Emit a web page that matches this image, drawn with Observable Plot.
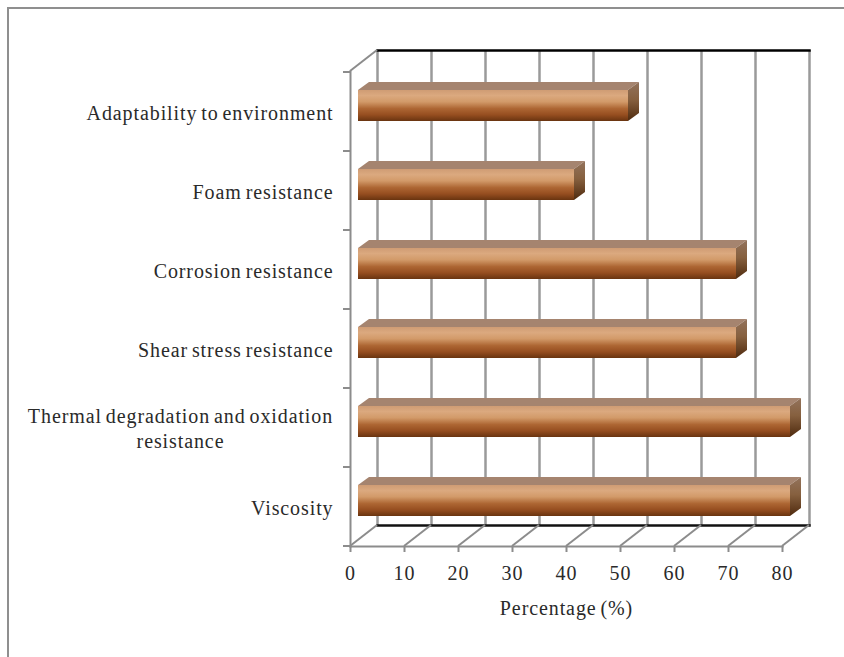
<!DOCTYPE html>
<html>
<head>
<meta charset="utf-8">
<script src="https://cdn.jsdelivr.net/npm/d3@7"></script>
<script src="https://cdn.jsdelivr.net/npm/@observablehq/plot@0.6"></script>
<style>
  html, body { margin: 0; padding: 0; background: #fff; overflow: hidden; }
  #chart { position: relative; width: 844px; height: 657px; }
  #chart svg { display: block; position: absolute; left: 0; top: 0; }
  #edge { position: absolute; left: 7px; top: 7px; right: 0; bottom: 0;
          border-top: 2px solid #8f8f8f; border-left: 2px solid #8f8f8f; z-index: 1; }
</style>
</head>
<body>
<div id="chart"><div id="edge"></div></div>
<script>
// Properties ranked by share of responses
const properties = [
  "Adaptability to environment",
  "Foam resistance",
  "Corrosion resistance",
  "Shear stress resistance",
  "Thermal degradation and oxidation\nresistance",
  "Viscosity"
];
const percentages = [50, 40, 70, 70, 80, 80];
const xTicks = [0, 10, 20, 30, 40, 50, 60, 70, 80];
const xTitle = "Percentage (%)";

const rows = properties.map((name, i) => ({name, value: percentages[i]}));

// Pseudo-3D box: how far the back wall and the bar depth are displaced
const wall = {dx: 27, dy: -21};
const bar = {shift: 8, insetTop: 18, insetBottom: 30, dx: 11, dy: -8};

const font = "'Liberation Serif', serif";
const labelSize = 20;
const gridColor = "#9a9a9a";
const axisColor = "#8c8c8c";

// Shared gradients for the bar faces
const gradients = () => {
  const defs = d3.create("svg:defs");
  const add = (id, stops) => {
    const g = defs.append("linearGradient").attr("id", id)
      .attr("x1", 0).attr("y1", 0).attr("x2", 0).attr("y2", 1);
    for (const [o, c] of stops) g.append("stop").attr("offset", o).attr("stop-color", c);
  };
  add("barFront", [[0, "#cf9c74"], [0.18, "#dba97f"], [0.38, "#d29a69"],
                   [0.6, "#ad6633"], [0.8, "#964e20"], [1, "#693410"]]);
  add("barEnd", [[0, "#93735c"], [0.45, "#86603f"], [1, "#4f2a0e"]]);
  return defs.node();
};

// Oblique floor and wall edges running from the front axes to the back wall
const depthEdges = (index, {x, y}, values, {marginTop, height, marginBottom}) => {
  const g = d3.create("svg:g").attr("stroke", axisColor).attr("stroke-width", 2);
  const floor = height - marginBottom;
  const edge = (px, py) => g.append("line")
    .attr("x1", px).attr("y1", py)
    .attr("x2", px + wall.dx).attr("y2", py + wall.dy);
  for (const t of xTicks) edge(x(t), floor);
  edge(x(0), marginTop);
  return g.node();
};

// Tick marks on the band boundaries of the category axis
const bandTicks = (index, {x, y}, values, {height, marginBottom}) => {
  const g = d3.create("svg:g").attr("stroke", axisColor).attr("stroke-width", 2);
  const stops = [...properties.map((p) => y(p)), height - marginBottom];
  for (const py of stops) {
    g.append("line").attr("x1", x(0) - 7).attr("x2", x(0)).attr("y1", py).attr("y2", py);
  }
  return g.node();
};

// Top and end faces of each bar, sharing the scales of the front face
const barFaces = (index, {x, y}) => {
  const g = d3.create("svg:g");
  const band = y(properties[1]) - y(properties[0]);
  for (const {name, value} of rows) {
    const top = y(name) + bar.insetTop;
    const bottom = y(name) + band - bar.insetBottom;
    const left = x(0) + bar.shift;
    const right = x(value) + bar.shift;
    g.append("polygon").attr("fill", "#a5846f")
      .attr("points", [[left, top], [left + bar.dx, top + bar.dy],
                       [right + bar.dx, top + bar.dy], [right, top]].join(" "));
    g.append("polygon").attr("fill", "url(#barEnd)")
      .attr("points", [[right, top], [right + bar.dx, top + bar.dy],
                       [right + bar.dx, bottom + bar.dy], [right, bottom]].join(" "));
  }
  return g.node();
};

const textStyle = {fontSize: labelSize, fontFamily: font, fill: "#2a2a2a"};

const chart = Plot.plot({
  width: 844,
  height: 657,
  marginTop: 71,
  marginBottom: 111,
  marginLeft: 350,
  marginRight: 62,
  style: {background: "transparent", fontFamily: font, letterSpacing: "0.9px", wordSpacing: "-2px"},
  x: {domain: [0, 80]},
  y: {domain: properties, padding: 0, axis: null},
  marks: [
    gradients,
    // Back wall: gridlines and its black top and bottom edges
    Plot.ruleX(xTicks, {x: (d) => d, dx: wall.dx, dy: wall.dy, stroke: gridColor, strokeWidth: 2.5}),
    Plot.frame({anchor: "top", dx: wall.dx, dy: wall.dy, stroke: "#000", strokeWidth: 2.5}),
    Plot.frame({anchor: "bottom", dx: wall.dx, dy: wall.dy, stroke: "#111", strokeWidth: 2.5}),
    // Front axes
    depthEdges,
    Plot.frame({anchor: "left", stroke: axisColor, strokeWidth: 2}),
    Plot.frame({anchor: "bottom", stroke: axisColor, strokeWidth: 2}),
    bandTicks,
    Plot.axisX({
      ticks: xTicks, tickSize: 6, tickPadding: 13, label: null,
      stroke: axisColor, strokeWidth: 2, fontSize: labelSize, fill: "#2a2a2a",
      tickFormat: (d) => String(d)
    }),
    // Bars
    barFaces,
    Plot.barX(rows, {
      x1: () => 0, x2: "value", y: "name", dx: bar.shift,
      insetTop: bar.insetTop, insetBottom: bar.insetBottom,
      fill: "url(#barFront)"
    }),
    // Category labels
    Plot.text(properties.filter((p) => !p.includes("\n")), {
      x: () => 0, y: (d) => d, dx: -17, dy: 2, textAnchor: "end", ...textStyle
    }),
    Plot.text(properties.filter((p) => p.includes("\n")), {
      x: () => 0, y: (d) => d, dx: -170, dy: -1, textAnchor: "middle", lineHeight: 1.25, ...textStyle
    }),
    Plot.text([xTitle], {x: () => 40, frameAnchor: "bottom", dy: 68, ...textStyle})
  ]
});

document.getElementById("chart").appendChild(chart);
</script>
</body>
</html>
